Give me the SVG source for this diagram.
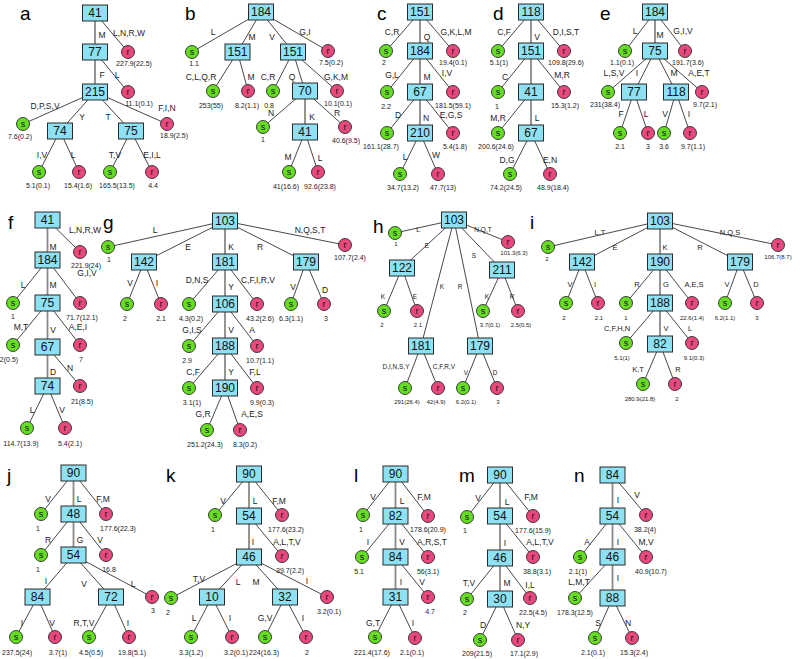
<svg xmlns="http://www.w3.org/2000/svg" width="800" height="659" viewBox="0 0 800 659">
<style>
.bx rect{fill:#8de1f2;stroke:#2a2a2a;stroke-width:1}
.bx text{font-family:"Liberation Sans",Arial,sans-serif;font-size:12px;text-anchor:middle;fill:#111}
.s circle{fill:#66dd22;stroke:#2a2a2a;stroke-width:0.9}
.r circle{fill:#e8487c;stroke:#2a2a2a;stroke-width:0.9}
.s text,.r text{font-family:"Liberation Sans",Arial,sans-serif;font-size:9px;text-anchor:middle;fill:#111}
.s .n,.r .n{font-size:7px;fill:#222}
.s .t,.r .t{font-size:6px}
#edge-labels text{font-family:"Liberation Sans",Arial,sans-serif;font-size:8.5px;text-anchor:middle;fill:#222}
#edge-labels .t{font-size:6.5px}
#edge-labels .m{font-size:7.5px}
.pl{font-family:"Liberation Sans",Arial,sans-serif;font-size:19px;fill:#000}
#connectors line{stroke:#333;stroke-width:0.9}
#connectors line.v{stroke:#8a8a8a;stroke-width:1.8}
</style>
<rect width="800" height="659" fill="#fff"/>
<g id="connectors">
<line class="v" x1="95" y1="13" x2="95" y2="52"/><line x1="95" y1="13" x2="128" y2="52"/>
<line class="v" x1="95" y1="52" x2="95" y2="92"/><line x1="95" y1="52" x2="128" y2="92"/>
<line x1="95" y1="92" x2="23" y2="124"/><line x1="95" y1="92" x2="60" y2="131"/><line x1="95" y1="92" x2="131" y2="131"/><line x1="95" y1="92" x2="167" y2="124"/>
<line x1="60" y1="131" x2="39" y2="172"/><line x1="60" y1="131" x2="79" y2="172"/>
<line x1="131" y1="131" x2="110" y2="172"/><line x1="131" y1="131" x2="152" y2="172"/>
<line x1="261" y1="12" x2="192" y2="52"/><line x1="261" y1="12" x2="237.5" y2="52"/><line x1="261" y1="12" x2="293" y2="52"/><line x1="261" y1="12" x2="328" y2="51"/>
<line x1="237.5" y1="52" x2="213" y2="91"/><line x1="237.5" y1="52" x2="248" y2="91"/>
<line x1="293" y1="52" x2="273" y2="91"/><line x1="293" y1="52" x2="305" y2="91"/><line x1="293" y1="52" x2="337" y2="91"/>
<line x1="305" y1="91" x2="263" y2="127"/><line class="v" x1="305" y1="91" x2="305" y2="132"/><line x1="305" y1="91" x2="345" y2="127"/>
<line x1="305" y1="132" x2="289" y2="172"/><line x1="305" y1="132" x2="318" y2="172"/>
<line x1="420" y1="12" x2="386" y2="51"/><line class="v" x1="420" y1="12" x2="420" y2="51"/><line x1="420" y1="12" x2="453" y2="51"/>
<line x1="420" y1="51" x2="387" y2="92"/><line class="v" x1="420" y1="51" x2="420" y2="92"/><line x1="420" y1="51" x2="453" y2="92"/>
<line x1="420" y1="92" x2="387" y2="133"/><line class="v" x1="420" y1="92" x2="420" y2="133"/><line x1="420" y1="92" x2="453" y2="133"/>
<line x1="420" y1="133" x2="400" y2="174"/><line x1="420" y1="133" x2="438" y2="174"/>
<line x1="531" y1="12" x2="498" y2="51"/><line class="v" x1="531" y1="12" x2="531" y2="51"/><line x1="531" y1="12" x2="564" y2="51"/>
<line x1="531" y1="51" x2="498" y2="92"/><line class="v" x1="531" y1="51" x2="531" y2="92"/><line x1="531" y1="51" x2="564" y2="92"/>
<line x1="531" y1="92" x2="498" y2="133"/><line class="v" x1="531" y1="92" x2="531" y2="133"/>
<line x1="531" y1="133" x2="510" y2="174"/><line x1="531" y1="133" x2="550" y2="174"/>
<line x1="655" y1="12" x2="625" y2="51"/><line class="v" x1="655" y1="12" x2="655" y2="51"/><line x1="655" y1="12" x2="685" y2="51"/>
<line x1="655" y1="51" x2="608" y2="92"/><line x1="655" y1="51" x2="634" y2="92"/><line x1="655" y1="51" x2="676" y2="92"/><line x1="655" y1="51" x2="702" y2="92"/>
<line x1="634" y1="92" x2="620" y2="133"/><line x1="634" y1="92" x2="648" y2="133"/>
<line x1="676" y1="92" x2="664" y2="133"/><line x1="676" y1="92" x2="690" y2="133"/>
<line x1="47.5" y1="220" x2="80" y2="252"/><line class="v" x1="47.5" y1="220" x2="47.5" y2="260"/>
<line x1="47.5" y1="260" x2="13" y2="303"/><line class="v" x1="47.5" y1="260" x2="47.5" y2="303"/><line x1="47.5" y1="260" x2="80" y2="303"/>
<line x1="47.5" y1="303" x2="13" y2="345"/><line class="v" x1="47.5" y1="303" x2="47.5" y2="347"/><line x1="47.5" y1="303" x2="80" y2="345"/>
<line class="v" x1="47.5" y1="347" x2="47.5" y2="386"/><line x1="47.5" y1="347" x2="80" y2="386"/>
<line x1="47.5" y1="386" x2="27" y2="428"/><line x1="47.5" y1="386" x2="65" y2="428"/>
<line x1="225" y1="221" x2="108" y2="247"/><line x1="225" y1="221" x2="144" y2="262"/><line class="v" x1="225" y1="221" x2="225" y2="262"/><line x1="225" y1="221" x2="306" y2="262"/><line x1="225" y1="221" x2="345" y2="245"/>
<line x1="144" y1="262" x2="127" y2="304"/><line x1="144" y1="262" x2="161" y2="304"/>
<line x1="225" y1="262" x2="189" y2="304"/><line class="v" x1="225" y1="262" x2="225" y2="304"/><line x1="225" y1="262" x2="257" y2="304"/>
<line x1="306" y1="262" x2="291" y2="304"/><line x1="306" y1="262" x2="324" y2="304"/>
<line x1="225" y1="304" x2="189" y2="346"/><line class="v" x1="225" y1="304" x2="225" y2="346"/><line x1="225" y1="304" x2="257" y2="346"/>
<line x1="225" y1="346" x2="189" y2="388"/><line class="v" x1="225" y1="346" x2="225" y2="388"/><line x1="225" y1="346" x2="257" y2="388"/>
<line x1="225" y1="388" x2="207" y2="430"/><line x1="225" y1="388" x2="240" y2="430"/>
<line x1="454" y1="220" x2="395" y2="233"/><line x1="454" y1="220" x2="402" y2="268"/><line x1="454" y1="220" x2="421" y2="346"/><line x1="454" y1="220" x2="480" y2="346"/><line x1="454" y1="220" x2="502" y2="270"/><line x1="454" y1="220" x2="508" y2="242"/>
<line x1="402" y1="268" x2="384" y2="311"/><line x1="402" y1="268" x2="417" y2="311"/>
<line x1="502" y1="270" x2="483" y2="311"/><line x1="502" y1="270" x2="518" y2="311"/>
<line x1="421" y1="346" x2="405" y2="388"/><line x1="421" y1="346" x2="438" y2="388"/>
<line x1="480" y1="346" x2="463" y2="388"/><line x1="480" y1="346" x2="497" y2="388"/>
<line x1="660" y1="221" x2="548" y2="247"/><line x1="660" y1="221" x2="582" y2="262"/><line class="v" x1="660" y1="221" x2="660" y2="262"/><line x1="660" y1="221" x2="740" y2="262"/><line x1="660" y1="221" x2="778" y2="245"/>
<line x1="582" y1="262" x2="566" y2="303"/><line x1="582" y1="262" x2="598" y2="303"/>
<line x1="660" y1="262" x2="626" y2="303"/><line class="v" x1="660" y1="262" x2="660" y2="303"/><line x1="660" y1="262" x2="692" y2="303"/>
<line x1="740" y1="262" x2="725" y2="303"/><line x1="740" y1="262" x2="757" y2="303"/>
<line x1="660" y1="303" x2="626" y2="343"/><line class="v" x1="660" y1="303" x2="660" y2="344"/><line x1="660" y1="303" x2="692" y2="343"/>
<line x1="660" y1="344" x2="643" y2="384"/><line x1="660" y1="344" x2="675" y2="384"/>
<line x1="73.5" y1="473" x2="41" y2="514"/><line class="v" x1="73.5" y1="473" x2="73.5" y2="514"/><line x1="73.5" y1="473" x2="106" y2="514"/>
<line x1="73.5" y1="514" x2="41" y2="555"/><line class="v" x1="73.5" y1="514" x2="73.5" y2="555"/><line x1="73.5" y1="514" x2="106" y2="555"/>
<line x1="73.5" y1="555" x2="37.5" y2="597"/><line x1="73.5" y1="555" x2="111" y2="597"/><line x1="73.5" y1="555" x2="152" y2="597"/>
<line x1="37.5" y1="597" x2="16" y2="637"/><line x1="37.5" y1="597" x2="55" y2="637"/>
<line x1="111" y1="597" x2="89" y2="637"/><line x1="111" y1="597" x2="129" y2="637"/>
<line x1="249" y1="474" x2="215" y2="515"/><line class="v" x1="249" y1="474" x2="249" y2="516"/><line x1="249" y1="474" x2="282" y2="515"/>
<line class="v" x1="249" y1="516" x2="249" y2="557"/><line x1="249" y1="516" x2="282" y2="556"/>
<line x1="249" y1="557" x2="171" y2="598"/><line x1="249" y1="557" x2="212" y2="597"/><line x1="249" y1="557" x2="285" y2="597"/><line x1="249" y1="557" x2="327" y2="597"/>
<line x1="212" y1="597" x2="191" y2="637"/><line x1="212" y1="597" x2="232" y2="637"/>
<line x1="285" y1="597" x2="265" y2="637"/><line x1="285" y1="597" x2="306" y2="637"/>
<line x1="395.5" y1="474" x2="363" y2="515"/><line class="v" x1="395.5" y1="474" x2="395.5" y2="516"/><line x1="395.5" y1="474" x2="428" y2="516"/>
<line x1="395.5" y1="516" x2="362" y2="557"/><line class="v" x1="395.5" y1="516" x2="395.5" y2="557"/><line x1="395.5" y1="516" x2="428" y2="557"/>
<line class="v" x1="395.5" y1="557" x2="395.5" y2="597"/><line x1="395.5" y1="557" x2="428" y2="597"/>
<line x1="395.5" y1="597" x2="375" y2="637"/><line x1="395.5" y1="597" x2="415" y2="638"/>
<line x1="500" y1="475" x2="467" y2="517"/><line class="v" x1="500" y1="475" x2="500" y2="516"/><line x1="500" y1="475" x2="533" y2="516"/>
<line class="v" x1="500" y1="516" x2="500" y2="558"/><line x1="500" y1="516" x2="533" y2="557"/>
<line x1="500" y1="558" x2="467" y2="599"/><line class="v" x1="500" y1="558" x2="500" y2="599"/><line x1="500" y1="558" x2="530" y2="598"/>
<line x1="500" y1="599" x2="480" y2="640"/><line x1="500" y1="599" x2="518" y2="640"/>
<line class="v" x1="612.5" y1="475" x2="612.5" y2="516"/><line x1="612.5" y1="475" x2="646" y2="515"/>
<line x1="612.5" y1="516" x2="580" y2="557"/><line class="v" x1="612.5" y1="516" x2="612.5" y2="557"/><line x1="612.5" y1="516" x2="646" y2="557"/>
<line x1="612.5" y1="557" x2="575" y2="598"/><line class="v" x1="612.5" y1="557" x2="612.5" y2="598"/>
<line x1="612.5" y1="598" x2="595" y2="638"/><line x1="612.5" y1="598" x2="632" y2="638"/>
</g>
<g id="edge-labels">
<text x="102" y="38">M</text><text x="129" y="36">L,N,R,W</text><text x="102" y="78">F</text><text x="117" y="78">L</text><text x="45" y="109">D,P,S,V</text><text x="82" y="120">Y</text><text x="108" y="120">T</text><text x="167" y="111">F,I,N</text><text x="42" y="158">I,V</text><text x="73" y="158">L</text><text x="115" y="158">T,V</text><text x="152" y="158">E,I,L</text>
<text x="213" y="35">L</text><text x="252" y="40">M</text><text x="272" y="40">V</text><text x="305" y="35">G,I</text><text x="201" y="80">C,L,Q,R</text><text x="251" y="80">M</text><text x="268" y="80">C,R</text><text x="292" y="80">Q</text><text x="336" y="80">G,K,M</text><text x="271" y="116">N</text><text x="312" y="120">K</text><text x="337" y="116">R</text><text x="288" y="160">M</text><text x="320" y="161">L</text>
<text x="392" y="35">C,R</text><text x="427" y="40">Q</text><text x="456" y="35">G,K,L,M</text><text x="392" y="78">G,L</text><text x="427" y="80">M</text><text x="447" y="76">I,V</text><text x="398" y="118">D</text><text x="426" y="121">N</text><text x="451" y="118">E,G,S</text><text x="405" y="160">L</text><text x="436" y="158">W</text>
<text x="504" y="35">C,F</text><text x="537" y="40">V</text><text x="566" y="35">D,I,S,T</text><text x="505" y="80">C</text><text x="562" y="78">M,R</text><text x="498" y="121">M,R</text><text x="537" y="121">L</text><text x="507" y="163">D,G</text><text x="550" y="163">E,N</text>
<text x="635" y="34">L</text><text x="660" y="38">M</text><text x="683" y="34">G,I,V</text><text x="614" y="76">L,S,V</text><text x="637" y="76">I</text><text x="674" y="76">M</text><text x="699" y="76">A,E,T</text><text x="621" y="117">F</text><text x="646" y="117">L</text><text x="665" y="117">V</text><text x="689" y="117">I</text>
<text x="85" y="233">L,N,R,W</text><text x="53" y="250">M</text><text x="87" y="276">G,I,V</text><text x="23" y="288">L</text><text x="53" y="288">M</text><text x="21" y="330">M,T</text><text x="53" y="333">V</text><text x="78" y="330">A,E,I</text><text x="53" y="375">D</text><text x="70" y="371">N</text><text x="32" y="413">L</text><text x="62" y="413">V</text>
<text x="155" y="233">L</text><text x="188" y="250">E</text><text x="231" y="250">K</text><text x="260" y="250">R</text><text x="310" y="233">N,Q,S,T</text><text x="130" y="286">V</text><text x="157" y="286">I</text><text x="197" y="283">D,N,S</text><text x="231" y="290">Y</text><text x="258" y="283">C,F,I,R,V</text><text x="293" y="290">V</text><text x="325" y="293">D</text><text x="192" y="333">G,I,S</text><text x="231" y="333">V</text><text x="252" y="333">A</text><text x="193" y="375">C,F</text><text x="231" y="375">Y</text><text x="255" y="375">F,L</text><text x="203" y="417">G,R</text><text x="252" y="417">A,E,S</text>
<text class="t" x="418" y="232">L</text><text class="t" x="427" y="248">E</text><text class="t" x="442" y="289">K</text><text class="t" x="460" y="289">R</text><text class="t" x="474" y="258">S</text><text class="t" x="483" y="232">N,Q,T</text><text class="t" x="383" y="299">K</text><text class="t" x="415" y="299">E</text><text class="t" x="487" y="299">K</text><text class="t" x="512" y="299">R</text><text class="t" x="396" y="369">D,I,N,S,Y</text><text class="t" x="444" y="369">C,F,R,V</text><text class="t" x="466" y="375">V</text><text class="t" x="495" y="375">D</text>
<text class="m" x="600" y="235">L,T</text><text class="m" x="615" y="250">E</text><text class="m" x="665" y="250">K</text><text class="m" x="700" y="250">R</text><text class="m" x="730" y="235">N,Q,S</text><text class="m" x="570" y="287">V</text><text class="m" x="595" y="287">I</text><text class="m" x="637" y="287">R</text><text class="m" x="666" y="287">G</text><text class="m" x="694" y="287">A,E,S</text><text class="m" x="727" y="287">V</text><text class="m" x="756" y="287">D</text><text class="m" x="617" y="331">C,F,H,N</text><text class="m" x="666" y="331">V</text><text class="m" x="690" y="331">L</text><text class="m" x="638" y="372">K,T</text><text class="m" x="678" y="372">R</text>
<text x="48" y="502">V</text><text x="79" y="502">L</text><text x="103" y="502">F,M</text><text x="48" y="543">R</text><text x="80" y="543">G</text><text x="100" y="543">V</text><text x="46" y="584">I</text><text x="84" y="587">V</text><text x="133" y="587">L</text><text x="22" y="626">I</text><text x="52" y="626">V</text><text x="84" y="626">R,T,V</text><text x="128" y="626">I</text>
<text x="223" y="504">V</text><text x="255" y="504">L</text><text x="279" y="504">F,M</text><text x="253" y="545">I</text><text x="287" y="545">A,L,T,V</text><text x="199" y="582">T,V</text><text x="238" y="585">L</text><text x="256" y="585">M</text><text x="307" y="584">I</text><text x="194" y="621">L</text><text x="230" y="621">I</text><text x="265" y="621">G,V</text><text x="303" y="621">I</text>
<text x="373" y="500">V</text><text x="402" y="504">L</text><text x="424" y="500">F,M</text><text x="368" y="545">I</text><text x="402" y="545">V</text><text x="432" y="545">A,R,S,T</text><text x="401" y="585">I</text><text x="422" y="585">V</text><text x="373" y="626">G,T</text><text x="413" y="626">I</text>
<text x="478" y="501">V</text><text x="507" y="505">L</text><text x="531" y="500">F,M</text><text x="505" y="546">I</text><text x="540" y="545">A,L,T,V</text><text x="469" y="586">T,V</text><text x="507" y="586">M</text><text x="530" y="588">I,L</text><text x="483" y="628">D</text><text x="523" y="628">N,Y</text>
<text x="618" y="503">I</text><text x="637" y="498">V</text><text x="587" y="545">A</text><text x="618" y="545">I</text><text x="646" y="545">M,V</text><text x="579" y="585">L,M,T</text><text x="618" y="581">I</text><text x="598" y="626">S</text><text x="628" y="626">N</text>
</g>
<g id="panel-labels">
<text class="pl" x="20" y="20">a</text><text class="pl" x="185" y="20">b</text><text class="pl" x="377" y="20">c</text><text class="pl" x="493" y="20">d</text><text class="pl" x="600" y="20">e</text>
<text class="pl" x="8" y="229">f</text><text class="pl" x="103" y="229">g</text><text class="pl" x="373" y="233">h</text><text class="pl" x="530" y="229">i</text>
<text class="pl" x="7" y="482">j</text><text class="pl" x="166" y="482">k</text><text class="pl" x="354" y="482">l</text><text class="pl" x="459" y="482">m</text><text class="pl" x="574" y="482">n</text>
</g>
<g id="a-41" class="bx"><rect x="82.5" y="5" width="25" height="16"/><text x="95" y="17.3">41</text></g>
<g id="a-77" class="bx"><rect x="82.5" y="44" width="25" height="16"/><text x="95" y="56.3">77</text></g>
<g id="a-215" class="bx"><rect x="82.5" y="84" width="25" height="16"/><text x="95" y="96.3">215</text></g>
<g id="a-74" class="bx"><rect x="47.5" y="123" width="25" height="16"/><text x="60" y="135.3">74</text></g>
<g id="a-75" class="bx"><rect x="118.5" y="123" width="25" height="16"/><text x="131" y="135.3">75</text></g>
<g id="a-r1" class="r"><circle cx="128" cy="52" r="6.5"/><text x="128" y="55">r</text><text class="n" x="134" y="66">227.9(22.5)</text></g>
<g id="a-r2" class="r"><circle cx="128" cy="92" r="6.5"/><text x="128" y="95">r</text><text class="n" x="139" y="106">11.1(0.1)</text></g>
<g id="a-s3" class="s"><circle cx="23" cy="124" r="6.5"/><text x="23" y="127">s</text><text class="n" x="20" y="139">7.6(0.2)</text></g>
<g id="a-r4" class="r"><circle cx="167" cy="124" r="6.5"/><text x="167" y="127">r</text><text class="n" x="174" y="138">18.9(2.5)</text></g>
<g id="a-s5" class="s"><circle cx="39" cy="172" r="6.5"/><text x="39" y="175">s</text><text class="n" x="38" y="188">5.1(0.1)</text></g>
<g id="a-r6" class="r"><circle cx="79" cy="172" r="6.5"/><text x="79" y="175">r</text><text class="n" x="78" y="188">15.4(1.6)</text></g>
<g id="a-s7" class="s"><circle cx="110" cy="172" r="6.5"/><text x="110" y="175">s</text><text class="n" x="117" y="188">165.5(13.5)</text></g>
<g id="a-r8" class="r"><circle cx="152" cy="172" r="6.5"/><text x="152" y="175">r</text><text class="n" x="153" y="188">4.4</text></g>
<g id="b-184" class="bx"><rect x="248.5" y="4" width="25" height="16"/><text x="261" y="16.3">184</text></g>
<g id="b-151a" class="bx"><rect x="225" y="44" width="25" height="16"/><text x="237.5" y="56.3">151</text></g>
<g id="b-151b" class="bx"><rect x="280.5" y="44" width="25" height="16"/><text x="293" y="56.3">151</text></g>
<g id="b-70" class="bx"><rect x="292.5" y="83" width="25" height="16"/><text x="305" y="95.3">70</text></g>
<g id="b-41" class="bx"><rect x="292.5" y="124" width="25" height="16"/><text x="305" y="136.3">41</text></g>
<g id="b-s1" class="s"><circle cx="192" cy="52" r="6.5"/><text x="192" y="55">s</text><text class="n" x="194" y="66">1.1</text></g>
<g id="b-r2" class="r"><circle cx="328" cy="51" r="6.5"/><text x="328" y="54">r</text><text class="n" x="331" y="65">7.5(0.2)</text></g>
<g id="b-s3" class="s"><circle cx="213" cy="91" r="6.5"/><text x="213" y="94">s</text><text class="n" x="211" y="108">253(55)</text></g>
<g id="b-r4" class="r"><circle cx="248" cy="91" r="6.5"/><text x="248" y="94">r</text><text class="n" x="247" y="108">8.2(1.1)</text></g>
<g id="b-s5" class="s"><circle cx="273" cy="91" r="6.5"/><text x="273" y="94">s</text><text class="n" x="269" y="108">0.8</text></g>
<g id="b-r6" class="r"><circle cx="337" cy="91" r="6.5"/><text x="337" y="94">r</text><text class="n" x="338" y="106">10.1(0.1)</text></g>
<g id="b-s7" class="s"><circle cx="263" cy="127" r="6.5"/><text x="263" y="130">s</text><text class="n" x="263" y="142">1</text></g>
<g id="b-r8" class="r"><circle cx="345" cy="127" r="6.5"/><text x="345" y="130">r</text><text class="n" x="346" y="143">40.6(9.5)</text></g>
<g id="b-s9" class="s"><circle cx="289" cy="172" r="6.5"/><text x="289" y="175">s</text><text class="n" x="286" y="189">41(16.6)</text></g>
<g id="b-r10" class="r"><circle cx="318" cy="172" r="6.5"/><text x="318" y="175">r</text><text class="n" x="320" y="189">92.6(23.8)</text></g>
<g id="c-151" class="bx"><rect x="407.5" y="4" width="25" height="16"/><text x="420" y="16.3">151</text></g>
<g id="c-184" class="bx"><rect x="407.5" y="43" width="25" height="16"/><text x="420" y="55.3">184</text></g>
<g id="c-67" class="bx"><rect x="407.5" y="84" width="25" height="16"/><text x="420" y="96.3">67</text></g>
<g id="c-210" class="bx"><rect x="407.5" y="125" width="25" height="16"/><text x="420" y="137.3">210</text></g>
<g id="c-s1" class="s"><circle cx="386" cy="51" r="6.5"/><text x="386" y="54">s</text><text class="n" x="384" y="65">2</text></g>
<g id="c-r2" class="r"><circle cx="453" cy="51" r="6.5"/><text x="453" y="54">r</text><text class="n" x="453" y="65">19.4(0.1)</text></g>
<g id="c-s3" class="s"><circle cx="387" cy="92" r="6.5"/><text x="387" y="95">s</text><text class="n" x="386" y="109">2.2</text></g>
<g id="c-r4" class="r"><circle cx="453" cy="92" r="6.5"/><text x="453" y="95">r</text><text class="n" x="453" y="108">181.5(59.1)</text></g>
<g id="c-s5" class="s"><circle cx="387" cy="133" r="6.5"/><text x="387" y="136">s</text><text class="n" x="381" y="149">161.1(28.7)</text></g>
<g id="c-r6" class="r"><circle cx="453" cy="133" r="6.5"/><text x="453" y="136">r</text><text class="n" x="455" y="149">5.4(1.8)</text></g>
<g id="c-s7" class="s"><circle cx="400" cy="174" r="6.5"/><text x="400" y="177">s</text><text class="n" x="403" y="190">34.7(13.2)</text></g>
<g id="c-r8" class="r"><circle cx="438" cy="174" r="6.5"/><text x="438" y="177">r</text><text class="n" x="443" y="190">47.7(13)</text></g>
<g id="d-118" class="bx"><rect x="518.5" y="4" width="25" height="16"/><text x="531" y="16.3">118</text></g>
<g id="d-151" class="bx"><rect x="518.5" y="43" width="25" height="16"/><text x="531" y="55.3">151</text></g>
<g id="d-41" class="bx"><rect x="518.5" y="84" width="25" height="16"/><text x="531" y="96.3">41</text></g>
<g id="d-67" class="bx"><rect x="518.5" y="125" width="25" height="16"/><text x="531" y="137.3">67</text></g>
<g id="d-s1" class="s"><circle cx="498" cy="51" r="6.5"/><text x="498" y="54">s</text><text class="n" x="499" y="65">5.1(1)</text></g>
<g id="d-r2" class="r"><circle cx="564" cy="51" r="6.5"/><text x="564" y="54">r</text><text class="n" x="566" y="65">109.8(29.6)</text></g>
<g id="d-s3" class="s"><circle cx="498" cy="92" r="6.5"/><text x="498" y="95">s</text><text class="n" x="497" y="109">1</text></g>
<g id="d-r4" class="r"><circle cx="564" cy="92" r="6.5"/><text x="564" y="95">r</text><text class="n" x="565" y="108">15.3(1.2)</text></g>
<g id="d-s5" class="s"><circle cx="498" cy="133" r="6.5"/><text x="498" y="136">s</text><text class="n" x="496" y="149">200.6(24.6)</text></g>
<g id="d-s6" class="s"><circle cx="510" cy="174" r="6.5"/><text x="510" y="177">s</text><text class="n" x="506" y="190">74.2(24.5)</text></g>
<g id="d-r7" class="r"><circle cx="550" cy="174" r="6.5"/><text x="550" y="177">r</text><text class="n" x="553" y="190">48.9(18.4)</text></g>
<g id="e-184" class="bx"><rect x="642.5" y="4" width="25" height="16"/><text x="655" y="16.3">184</text></g>
<g id="e-75" class="bx"><rect x="642.5" y="43" width="25" height="16"/><text x="655" y="55.3">75</text></g>
<g id="e-77" class="bx"><rect x="621.5" y="84" width="25" height="16"/><text x="634" y="96.3">77</text></g>
<g id="e-118" class="bx"><rect x="663.5" y="84" width="25" height="16"/><text x="676" y="96.3">118</text></g>
<g id="e-s1" class="s"><circle cx="625" cy="51" r="6.5"/><text x="625" y="54">s</text><text class="n" x="622" y="65">1.1(0.1)</text></g>
<g id="e-r2" class="r"><circle cx="685" cy="51" r="6.5"/><text x="685" y="54">r</text><text class="n" x="688" y="65">191.7(3.6)</text></g>
<g id="e-s3" class="s"><circle cx="608" cy="92" r="6.5"/><text x="608" y="95">s</text><text class="n" x="605" y="107">231(38.4)</text></g>
<g id="e-r4" class="r"><circle cx="702" cy="92" r="6.5"/><text x="702" y="95">r</text><text class="n" x="705" y="107">9.7(2.1)</text></g>
<g id="e-s5" class="s"><circle cx="620" cy="133" r="6.5"/><text x="620" y="136">s</text><text class="n" x="620" y="149">2.1</text></g>
<g id="e-r6" class="r"><circle cx="648" cy="133" r="6.5"/><text x="648" y="136">r</text><text class="n" x="648" y="149">3</text></g>
<g id="e-s7" class="s"><circle cx="664" cy="133" r="6.5"/><text x="664" y="136">s</text><text class="n" x="664" y="149">3.6</text></g>
<g id="e-r8" class="r"><circle cx="690" cy="133" r="6.5"/><text x="690" y="136">r</text><text class="n" x="693" y="149">9.7(1.1)</text></g>
<g id="f-41" class="bx"><rect x="35" y="212" width="25" height="16"/><text x="47.5" y="224.3">41</text></g>
<g id="f-184" class="bx"><rect x="35" y="252" width="25" height="16"/><text x="47.5" y="264.3">184</text></g>
<g id="f-75" class="bx"><rect x="35" y="295" width="25" height="16"/><text x="47.5" y="307.3">75</text></g>
<g id="f-67" class="bx"><rect x="35" y="339" width="25" height="16"/><text x="47.5" y="351.3">67</text></g>
<g id="f-74" class="bx"><rect x="35" y="378" width="25" height="16"/><text x="47.5" y="390.3">74</text></g>
<g id="f-r1" class="r"><circle cx="80" cy="252" r="6.5"/><text x="80" y="255">r</text><text class="n" x="86" y="268">221.9(24)</text></g>
<g id="f-s2" class="s"><circle cx="13" cy="303" r="6.5"/><text x="13" y="306">s</text><text class="n" x="13" y="319">1</text></g>
<g id="f-r3" class="r"><circle cx="80" cy="303" r="6.5"/><text x="80" y="306">r</text><text class="n" x="82" y="320">71.7(12.1)</text></g>
<g id="f-s4" class="s"><circle cx="13" cy="345" r="6.5"/><text x="13" y="348">s</text><text class="n" x="9" y="362">2(0.5)</text></g>
<g id="f-r5" class="r"><circle cx="80" cy="345" r="6.5"/><text x="80" y="348">r</text><text class="n" x="81" y="362">7</text></g>
<g id="f-r6" class="r"><circle cx="80" cy="386" r="6.5"/><text x="80" y="389">r</text><text class="n" x="82" y="404">21(8.5)</text></g>
<g id="f-s7" class="s"><circle cx="27" cy="428" r="6.5"/><text x="27" y="431">s</text><text class="n" x="21" y="446">114.7(13.9)</text></g>
<g id="f-r8" class="r"><circle cx="65" cy="428" r="6.5"/><text x="65" y="431">r</text><text class="n" x="70" y="446">5.4(2.1)</text></g>
<g id="g-103" class="bx"><rect x="212.5" y="213" width="25" height="16"/><text x="225" y="225.3">103</text></g>
<g id="g-142" class="bx"><rect x="131.5" y="254" width="25" height="16"/><text x="144" y="266.3">142</text></g>
<g id="g-181" class="bx"><rect x="212.5" y="254" width="25" height="16"/><text x="225" y="266.3">181</text></g>
<g id="g-179" class="bx"><rect x="293.5" y="254" width="25" height="16"/><text x="306" y="266.3">179</text></g>
<g id="g-106" class="bx"><rect x="212.5" y="296" width="25" height="16"/><text x="225" y="308.3">106</text></g>
<g id="g-188" class="bx"><rect x="212.5" y="338" width="25" height="16"/><text x="225" y="350.3">188</text></g>
<g id="g-190" class="bx"><rect x="212.5" y="380" width="25" height="16"/><text x="225" y="392.3">190</text></g>
<g id="g-s1" class="s"><circle cx="108" cy="247" r="6.5"/><text x="108" y="250">s</text><text class="n" x="109" y="262">1</text></g>
<g id="g-r2" class="r"><circle cx="345" cy="245" r="6.5"/><text x="345" y="248">r</text><text class="n" x="350" y="260">107.7(2.4)</text></g>
<g id="g-s3" class="s"><circle cx="127" cy="304" r="6.5"/><text x="127" y="307">s</text><text class="n" x="125" y="321">2</text></g>
<g id="g-r4" class="r"><circle cx="161" cy="304" r="6.5"/><text x="161" y="307">r</text><text class="n" x="161" y="321">2.1</text></g>
<g id="g-s5" class="s"><circle cx="189" cy="304" r="6.5"/><text x="189" y="307">s</text><text class="n" x="191" y="321">4.3(0.2)</text></g>
<g id="g-r6" class="r"><circle cx="257" cy="304" r="6.5"/><text x="257" y="307">r</text><text class="n" x="260" y="321">43.2(2.6)</text></g>
<g id="g-s7" class="s"><circle cx="291" cy="304" r="6.5"/><text x="291" y="307">s</text><text class="n" x="291" y="321">6.3(1.1)</text></g>
<g id="g-r8" class="r"><circle cx="324" cy="304" r="6.5"/><text x="324" y="307">r</text><text class="n" x="326" y="321">3</text></g>
<g id="g-s9" class="s"><circle cx="189" cy="346" r="6.5"/><text x="189" y="349">s</text><text class="n" x="187" y="363">2.9</text></g>
<g id="g-r10" class="r"><circle cx="257" cy="346" r="6.5"/><text x="257" y="349">r</text><text class="n" x="260" y="363">10.7(1.1)</text></g>
<g id="g-s11" class="s"><circle cx="189" cy="388" r="6.5"/><text x="189" y="391">s</text><text class="n" x="192" y="405">3.1(1)</text></g>
<g id="g-r12" class="r"><circle cx="257" cy="388" r="6.5"/><text x="257" y="391">r</text><text class="n" x="262" y="405">9.9(0.3)</text></g>
<g id="g-s13" class="s"><circle cx="207" cy="430" r="6.5"/><text x="207" y="433">s</text><text class="n" x="205" y="447">251.2(24.3)</text></g>
<g id="g-r14" class="r"><circle cx="240" cy="430" r="6.5"/><text x="240" y="433">r</text><text class="n" x="245" y="447">8.3(0.2)</text></g>
<g id="h-103" class="bx"><rect x="441.5" y="212" width="25" height="16"/><text x="454" y="224.3">103</text></g>
<g id="h-122" class="bx"><rect x="389.5" y="260" width="25" height="16"/><text x="402" y="272.3">122</text></g>
<g id="h-211" class="bx"><rect x="489.5" y="262" width="25" height="16"/><text x="502" y="274.3">211</text></g>
<g id="h-181" class="bx"><rect x="408.5" y="338" width="25" height="16"/><text x="421" y="350.3">181</text></g>
<g id="h-179" class="bx"><rect x="467.5" y="338" width="25" height="16"/><text x="480" y="350.3">179</text></g>
<g id="h-s1" class="s"><circle cx="395" cy="233" r="6.5"/><text x="395" y="236">s</text><text class="n t" x="396" y="246">1</text></g>
<g id="h-r2" class="r"><circle cx="508" cy="242" r="6.5"/><text x="508" y="245">r</text><text class="n t" x="514" y="255">101.3(6.3)</text></g>
<g id="h-s3" class="s"><circle cx="384" cy="311" r="6.5"/><text x="384" y="314">s</text><text class="n t" x="382" y="327">2</text></g>
<g id="h-r4" class="r"><circle cx="417" cy="311" r="6.5"/><text x="417" y="314">r</text><text class="n t" x="418" y="327">2.1</text></g>
<g id="h-s5" class="s"><circle cx="483" cy="311" r="6.5"/><text x="483" y="314">s</text><text class="n t" x="490" y="327">3.7(0.1)</text></g>
<g id="h-r6" class="r"><circle cx="518" cy="311" r="6.5"/><text x="518" y="314">r</text><text class="n t" x="521" y="327">2.5(0.5)</text></g>
<g id="h-s7" class="s"><circle cx="405" cy="388" r="6.5"/><text x="405" y="391">s</text><text class="n t" x="407" y="404">291(26.4)</text></g>
<g id="h-r8" class="r"><circle cx="438" cy="388" r="6.5"/><text x="438" y="391">r</text><text class="n t" x="436" y="404">42(4.9)</text></g>
<g id="h-s9" class="s"><circle cx="463" cy="388" r="6.5"/><text x="463" y="391">s</text><text class="n t" x="466" y="404">6.2(0.1)</text></g>
<g id="h-r10" class="r"><circle cx="497" cy="388" r="6.5"/><text x="497" y="391">r</text><text class="n t" x="498" y="404">3</text></g>
<g id="i-103" class="bx"><rect x="647.5" y="213" width="25" height="16"/><text x="660" y="225.3">103</text></g>
<g id="i-142" class="bx"><rect x="569.5" y="254" width="25" height="16"/><text x="582" y="266.3">142</text></g>
<g id="i-190" class="bx"><rect x="647.5" y="254" width="25" height="16"/><text x="660" y="266.3">190</text></g>
<g id="i-179" class="bx"><rect x="727.5" y="254" width="25" height="16"/><text x="740" y="266.3">179</text></g>
<g id="i-188" class="bx"><rect x="647.5" y="295" width="25" height="16"/><text x="660" y="307.3">188</text></g>
<g id="i-82" class="bx"><rect x="647.5" y="336" width="25" height="16"/><text x="660" y="348.3">82</text></g>
<g id="i-s1" class="s"><circle cx="548" cy="247" r="6.5"/><text x="548" y="250">s</text><text class="n t" x="547" y="261">2</text></g>
<g id="i-r2" class="r"><circle cx="778" cy="245" r="6.5"/><text x="778" y="248">r</text><text class="n t" x="778" y="259">106.7(8.7)</text></g>
<g id="i-s3" class="s"><circle cx="566" cy="303" r="6.5"/><text x="566" y="306">s</text><text class="n t" x="564" y="320">2</text></g>
<g id="i-r4" class="r"><circle cx="598" cy="303" r="6.5"/><text x="598" y="306">r</text><text class="n t" x="599" y="320">2.1</text></g>
<g id="i-s5" class="s"><circle cx="626" cy="303" r="6.5"/><text x="626" y="306">s</text><text class="n t" x="626" y="320">1</text></g>
<g id="i-r6" class="r"><circle cx="692" cy="303" r="6.5"/><text x="692" y="306">r</text><text class="n t" x="692" y="320">22.6(1.4)</text></g>
<g id="i-s7" class="s"><circle cx="725" cy="303" r="6.5"/><text x="725" y="306">s</text><text class="n t" x="725" y="320">6.2(1.1)</text></g>
<g id="i-r8" class="r"><circle cx="757" cy="303" r="6.5"/><text x="757" y="306">r</text><text class="n t" x="757" y="320">3</text></g>
<g id="i-s9" class="s"><circle cx="626" cy="343" r="6.5"/><text x="626" y="346">s</text><text class="n t" x="622" y="360">5.1(1)</text></g>
<g id="i-r10" class="r"><circle cx="692" cy="343" r="6.5"/><text x="692" y="346">r</text><text class="n t" x="694" y="360">9.1(0.3)</text></g>
<g id="i-s11" class="s"><circle cx="643" cy="384" r="6.5"/><text x="643" y="387">s</text><text class="n t" x="640" y="401">280.9(21.8)</text></g>
<g id="i-r12" class="r"><circle cx="675" cy="384" r="6.5"/><text x="675" y="387">r</text><text class="n t" x="677" y="401">2</text></g>
<g id="j-90" class="bx"><rect x="61" y="465" width="25" height="16"/><text x="73.5" y="477.3">90</text></g>
<g id="j-48" class="bx"><rect x="61" y="506" width="25" height="16"/><text x="73.5" y="518.3">48</text></g>
<g id="j-54" class="bx"><rect x="61" y="547" width="25" height="16"/><text x="73.5" y="559.3">54</text></g>
<g id="j-84" class="bx"><rect x="25" y="589" width="25" height="16"/><text x="37.5" y="601.3">84</text></g>
<g id="j-72" class="bx"><rect x="98.5" y="589" width="25" height="16"/><text x="111" y="601.3">72</text></g>
<g id="j-s1" class="s"><circle cx="41" cy="514" r="6.5"/><text x="41" y="517">s</text><text class="n" x="38" y="531">1</text></g>
<g id="j-r2" class="r"><circle cx="106" cy="514" r="6.5"/><text x="106" y="517">r</text><text class="n" x="118" y="531">177.6(22.3)</text></g>
<g id="j-s3" class="s"><circle cx="41" cy="555" r="6.5"/><text x="41" y="558">s</text><text class="n" x="38" y="572">1</text></g>
<g id="j-r4" class="r"><circle cx="106" cy="555" r="6.5"/><text x="106" y="558">r</text><text class="n" x="109" y="572">16.8</text></g>
<g id="j-r5" class="r"><circle cx="152" cy="597" r="6.5"/><text x="152" y="600">r</text><text class="n" x="153" y="613">3</text></g>
<g id="j-s6" class="s"><circle cx="16" cy="637" r="6.5"/><text x="16" y="640">s</text><text class="n" x="17" y="655">237.5(24)</text></g>
<g id="j-r7" class="r"><circle cx="55" cy="637" r="6.5"/><text x="55" y="640">r</text><text class="n" x="58" y="655">3.7(1)</text></g>
<g id="j-s8" class="s"><circle cx="89" cy="637" r="6.5"/><text x="89" y="640">s</text><text class="n" x="91" y="655">4.5(0.5)</text></g>
<g id="j-r9" class="r"><circle cx="129" cy="637" r="6.5"/><text x="129" y="640">r</text><text class="n" x="132" y="655">19.8(5.1)</text></g>
<g id="k-90" class="bx"><rect x="236.5" y="466" width="25" height="16"/><text x="249" y="478.3">90</text></g>
<g id="k-54" class="bx"><rect x="236.5" y="508" width="25" height="16"/><text x="249" y="520.3">54</text></g>
<g id="k-46" class="bx"><rect x="236.5" y="549" width="25" height="16"/><text x="249" y="561.3">46</text></g>
<g id="k-10" class="bx"><rect x="199.5" y="589" width="25" height="16"/><text x="212" y="601.3">10</text></g>
<g id="k-32" class="bx"><rect x="272.5" y="589" width="25" height="16"/><text x="285" y="601.3">32</text></g>
<g id="k-s1" class="s"><circle cx="215" cy="515" r="6.5"/><text x="215" y="518">s</text><text class="n" x="213" y="532">1</text></g>
<g id="k-r2" class="r"><circle cx="282" cy="515" r="6.5"/><text x="282" y="518">r</text><text class="n" x="286" y="532">177.6(23.2)</text></g>
<g id="k-r3" class="r"><circle cx="282" cy="556" r="6.5"/><text x="282" y="559">r</text><text class="n" x="290" y="573">39.7(2.2)</text></g>
<g id="k-s4" class="s"><circle cx="171" cy="598" r="6.5"/><text x="171" y="601">s</text><text class="n" x="168" y="615">2</text></g>
<g id="k-r5" class="r"><circle cx="327" cy="597" r="6.5"/><text x="327" y="600">r</text><text class="n" x="329" y="614">3.2(0.1)</text></g>
<g id="k-s6" class="s"><circle cx="191" cy="637" r="6.5"/><text x="191" y="640">s</text><text class="n" x="191" y="655">3.3(1.2)</text></g>
<g id="k-r7" class="r"><circle cx="232" cy="637" r="6.5"/><text x="232" y="640">r</text><text class="n" x="236" y="655">3.2(0.1)</text></g>
<g id="k-s8" class="s"><circle cx="265" cy="637" r="6.5"/><text x="265" y="640">s</text><text class="n" x="264" y="655">224(16.3)</text></g>
<g id="k-r9" class="r"><circle cx="306" cy="637" r="6.5"/><text x="306" y="640">r</text><text class="n" x="307" y="655">2</text></g>
<g id="l-90" class="bx"><rect x="383" y="466" width="25" height="16"/><text x="395.5" y="478.3">90</text></g>
<g id="l-82" class="bx"><rect x="383" y="508" width="25" height="16"/><text x="395.5" y="520.3">82</text></g>
<g id="l-84" class="bx"><rect x="383" y="549" width="25" height="16"/><text x="395.5" y="561.3">84</text></g>
<g id="l-31" class="bx"><rect x="383" y="589" width="25" height="16"/><text x="395.5" y="601.3">31</text></g>
<g id="l-s1" class="s"><circle cx="363" cy="515" r="6.5"/><text x="363" y="518">s</text><text class="n" x="361" y="532">1</text></g>
<g id="l-r2" class="r"><circle cx="428" cy="516" r="6.5"/><text x="428" y="519">r</text><text class="n" x="428" y="532">178.6(20.9)</text></g>
<g id="l-s3" class="s"><circle cx="362" cy="557" r="6.5"/><text x="362" y="560">s</text><text class="n" x="359" y="574">5.1</text></g>
<g id="l-r4" class="r"><circle cx="428" cy="557" r="6.5"/><text x="428" y="560">r</text><text class="n" x="428" y="574">56(3.1)</text></g>
<g id="l-r5" class="r"><circle cx="428" cy="597" r="6.5"/><text x="428" y="600">r</text><text class="n" x="430" y="614">4.7</text></g>
<g id="l-s6" class="s"><circle cx="375" cy="637" r="6.5"/><text x="375" y="640">s</text><text class="n" x="372" y="655">221.4(17.6)</text></g>
<g id="l-r7" class="r"><circle cx="415" cy="638" r="6.5"/><text x="415" y="641">r</text><text class="n" x="412" y="655">2.1(0.1)</text></g>
<g id="m-90" class="bx"><rect x="487.5" y="467" width="25" height="16"/><text x="500" y="479.3">90</text></g>
<g id="m-54" class="bx"><rect x="487.5" y="508" width="25" height="16"/><text x="500" y="520.3">54</text></g>
<g id="m-46" class="bx"><rect x="487.5" y="550" width="25" height="16"/><text x="500" y="562.3">46</text></g>
<g id="m-30" class="bx"><rect x="487.5" y="591" width="25" height="16"/><text x="500" y="603.3">30</text></g>
<g id="m-s1" class="s"><circle cx="467" cy="517" r="6.5"/><text x="467" y="520">s</text><text class="n" x="465" y="533">1</text></g>
<g id="m-r2" class="r"><circle cx="533" cy="516" r="6.5"/><text x="533" y="519">r</text><text class="n" x="533" y="533">177.6(15.9)</text></g>
<g id="m-r3" class="r"><circle cx="533" cy="557" r="6.5"/><text x="533" y="560">r</text><text class="n" x="537" y="574">38.8(3.1)</text></g>
<g id="m-s4" class="s"><circle cx="467" cy="599" r="6.5"/><text x="467" y="602">s</text><text class="n" x="465" y="615">2</text></g>
<g id="m-r5" class="r"><circle cx="530" cy="598" r="6.5"/><text x="530" y="601">r</text><text class="n" x="533" y="615">22.5(4.5)</text></g>
<g id="m-s6" class="s"><circle cx="480" cy="640" r="6.5"/><text x="480" y="643">s</text><text class="n" x="477" y="656">209(21.5)</text></g>
<g id="m-r7" class="r"><circle cx="518" cy="640" r="6.5"/><text x="518" y="643">r</text><text class="n" x="524" y="656">17.1(2.9)</text></g>
<g id="n-84" class="bx"><rect x="600" y="467" width="25" height="16"/><text x="612.5" y="479.3">84</text></g>
<g id="n-54" class="bx"><rect x="600" y="508" width="25" height="16"/><text x="612.5" y="520.3">54</text></g>
<g id="n-46" class="bx"><rect x="600" y="549" width="25" height="16"/><text x="612.5" y="561.3">46</text></g>
<g id="n-88" class="bx"><rect x="600" y="590" width="25" height="16"/><text x="612.5" y="602.3">88</text></g>
<g id="n-r1" class="r"><circle cx="646" cy="515" r="6.5"/><text x="646" y="518">r</text><text class="n" x="645" y="532">38.2(4)</text></g>
<g id="n-s2" class="s"><circle cx="580" cy="557" r="6.5"/><text x="580" y="560">s</text><text class="n" x="578" y="574">2.1(1)</text></g>
<g id="n-r3" class="r"><circle cx="646" cy="557" r="6.5"/><text x="646" y="560">r</text><text class="n" x="651" y="574">40.9(10.7)</text></g>
<g id="n-s4" class="s"><circle cx="575" cy="598" r="6.5"/><text x="575" y="601">s</text><text class="n" x="575" y="615">178.3(12.5)</text></g>
<g id="n-s5" class="s"><circle cx="595" cy="638" r="6.5"/><text x="595" y="641">s</text><text class="n" x="593" y="655">2.1(0.1)</text></g>
<g id="n-r6" class="r"><circle cx="632" cy="638" r="6.5"/><text x="632" y="641">r</text><text class="n" x="634" y="655">15.3(2.4)</text></g>
</svg>
